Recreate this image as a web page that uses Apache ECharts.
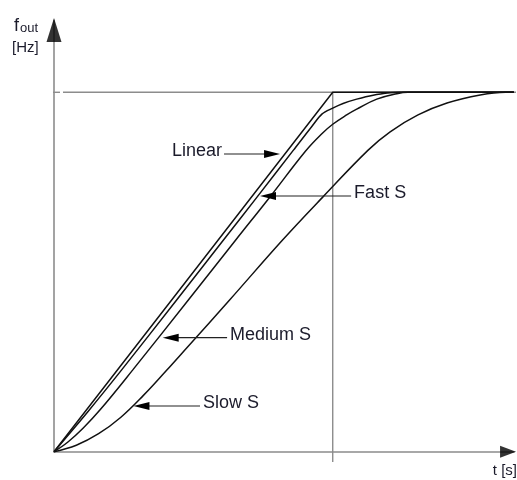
<!DOCTYPE html>
<html><head><meta charset="utf-8">
<script src="https://cdn.jsdelivr.net/npm/echarts/dist/echarts.min.js"></script>
<style>html,body{margin:0;padding:0;background:#fff}#c{width:517px;height:480px}</style>
</head><body><div id="c"></div>
<script>
// curve values: [t, f] with t = 10 at end of linear ramp, f = 100 at target frequency
const linearS = [[0,0],[10,100],[16.5,100]];
const fastS = [[0,0],[1.2,11],[2.42,22.7],[4.40,42.2],[6.08,58.9],[7.29,70.9],[8.59,83.9],[9.25,90.5],[9.62,94.0],[10.0,95.6],[10.37,96.9],[10.86,98.1],[11.45,99.2],[12.06,99.85],[12.41,100],[16.5,100]];
const mediumS = [[0,0],[0.5,2.7],[1.05,6.6],[1.67,11.8],[2.82,22.7],[4.82,42.2],[6.52,58.9],[7.74,70.8],[9.02,83.6],[9.6,88.4],[10.0,91.1],[10.5,93.7],[10.86,95.3],[11.58,98.1],[12.3,99.6],[12.7,100],[16.5,100]];
const slowS = [[0,0],[0.8,1.8],[1.6,5.0],[2.4,9.6],[3.2,15.6],[4.0,22.3],[4.8,29.2],[6.3,42.2],[8.2,58.9],[9.65,70.9],[11.27,83.9],[12.06,89.0],[13.06,93.7],[14.1,97.0],[15.29,99.25],[16.2,100],[16.5,100]];
// reference lines
const refTop = [[0.323,100],[16.58,100]];
const refEnd = [[10,100],[10,-2.87]];
const topTick = [[-0.215,100],[0.215,100]];
const axisArrows = [[16.29,0],[0,117.3]];
// annotations
const annotationNames = ['Linear','Fast S','Medium S','Slow S'];
const annotationFrom = [[6.10,82.83],[10.66,71.15],[6.21,31.72],[5.24,12.72]];
const annotationTo = [[8.11,82.83],[7.39,71.15],[3.90,31.72],[2.85,12.72]];

const annotationRows = annotationFrom.map((p,i)=>[p[0],p[1],annotationTo[i][0],annotationTo[i][1]]);
const FONT = '"Liberation Sans", Arial, sans-serif';
const chart = echarts.init(document.getElementById('c'), null, {renderer:'canvas'});
const grayLine = {color:'#8c8c8c', width:1.4};
const curveStyle = {color:'#111', width:1.5};
function lineSeries(data, style, z, smooth){
  return {type:'line', data:data, showSymbol:false, symbol:'none', clip:false, z:z, smooth:smooth || false,
    lineStyle:style, itemStyle:{color:style.color}, silent:true, animation:false};
}
chart.setOption({
  animation:false,
  grid:{left:54, top:20.4, right:3.1, bottom:28.3},
  xAxis:{type:'value', min:0, max:16.5, axisLine:{show:true, onZero:true, lineStyle:{color:'#8c8c8c', width:1.6}},
    axisTick:{show:false}, axisLabel:{show:false}, splitLine:{show:false}},
  yAxis:{type:'value', min:0, max:120, axisLine:{show:true, lineStyle:{color:'#8c8c8c', width:1.6}},
    axisTick:{show:false}, axisLabel:{show:false}, splitLine:{show:false}},
  series:[
    lineSeries(refTop, grayLine, 1),
    lineSeries(refEnd, grayLine, 1),
    lineSeries(topTick, grayLine, 1),
    lineSeries(slowS, curveStyle, 3, 0.4),
    lineSeries(mediumS, curveStyle, 3, 0.4),
    lineSeries(fastS, curveStyle, 3, 0.3),
    lineSeries(linearS, curveStyle, 3),
    {type:'scatter', clip:false, silent:true, z:5,
      data:[{value:axisArrows[0], symbol:'triangle', symbolSize:[12,16], symbolRotate:-90},
            {value:axisArrows[1], symbol:'triangle', symbolSize:[15,24], symbolRotate:0}],
      itemStyle:{color:'#000'}},
    {type:'custom', clip:false, silent:true, z:6, data:annotationRows, encode:{x:[0,2], y:[1,3]},
      renderItem:function(params, api){
        const i = params.dataIndex;
        const p0 = api.coord([api.value(0), api.value(1)]);
        const p1 = api.coord([api.value(2), api.value(3)]);
        const dx = p1[0]-p0[0], dy = p1[1]-p0[1];
        const len = Math.hypot(dx,dy), ux = dx/len, uy = dy/len;
        const L = 16, W = 4;
        const bx = p1[0]-ux*L, by = p1[1]-uy*L;
        const right = dx > 0;
        return {type:'group', children:[
          {type:'line', shape:{x1:p0[0], y1:p0[1], x2:bx+ux*2, y2:by+uy*2}, style:{stroke:'#222', lineWidth:1.2}},
          {type:'polygon', shape:{points:[[p1[0],p1[1]],[bx-uy*W,by+ux*W],[bx+uy*W,by-ux*W]]}, style:{fill:'#000'}},
          {type:'text', x: right ? p0[0]-2 : p0[0]+3, y: p0[1]-2.5,
            style:{text:annotationNames[i], fill:'#1b1b2b', font:'18px '+FONT, align: right?'right':'left', verticalAlign:'middle'}}
        ]};
      }}
  ],
  graphic:[
    {type:'text', x:14, y:26, style:{text:'f', fill:'#1b1b2b', font:'18px '+FONT, align:'left', verticalAlign:'middle'}},
    {type:'text', x:20, y:28.5, style:{text:'out', fill:'#1b1b2b', font:'13px '+FONT, align:'left', verticalAlign:'middle'}},
    {type:'text', x:12, y:47.7, style:{text:'[Hz]', fill:'#1b1b2b', font:'15px '+FONT, align:'left', verticalAlign:'middle'}},
    {type:'text', x:517, y:471, style:{text:'t [s]', fill:'#1b1b2b', font:'15px '+FONT, align:'right', verticalAlign:'middle'}}
  ]
});
</script></body></html>
